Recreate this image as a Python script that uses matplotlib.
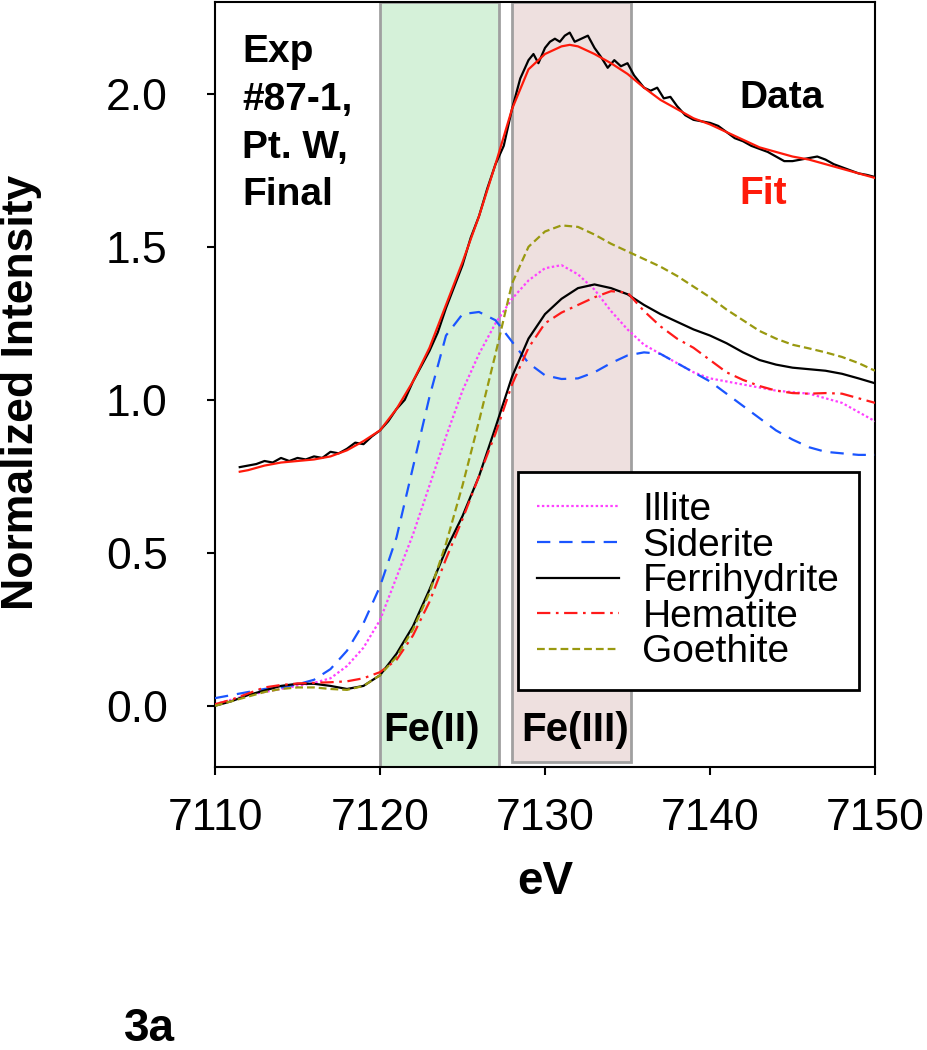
import matplotlib
matplotlib.use("Agg")
import matplotlib.pyplot as plt

plt.rcParams['font.family'] = ['Liberation Sans', 'DejaVu Sans']

# ---------------- data ----------------
ev_data = [7111.5, 7112, 7112.5, 7113, 7113.5, 7114, 7114.5, 7115, 7115.5, 7116, 7116.5,
           7117, 7117.5, 7118, 7118.5, 7119, 7119.5, 7120, 7120.5, 7121, 7121.5, 7122,
           7122.5, 7123, 7123.5, 7124, 7124.5, 7125, 7125.5, 7126, 7126.5, 7127, 7127.5,
           7128, 7128.5, 7129, 7129.3, 7129.6, 7130, 7130.3, 7130.6, 7130.9, 7131.2,
           7131.5, 7131.8, 7132.2, 7132.6, 7133, 7133.4, 7133.8, 7134.2, 7134.6, 7135,
           7135.4, 7136, 7136.4, 7136.8, 7137.2, 7137.6, 7138, 7138.5, 7139, 7139.5,
           7140, 7140.5, 7141, 7141.5, 7142, 7142.5, 7143, 7143.5, 7144, 7144.5, 7145,
           7145.5, 7146, 7146.5, 7147, 7147.5, 7148, 7148.5, 7149, 7149.5, 7150]
data_int = [0.78, 0.785, 0.79, 0.80, 0.795, 0.81, 0.80, 0.81, 0.805, 0.815, 0.81,
            0.83, 0.825, 0.84, 0.86, 0.855, 0.88, 0.90, 0.93, 0.97, 1.00, 1.06,
            1.11, 1.16, 1.22, 1.30, 1.37, 1.44, 1.53, 1.60, 1.69, 1.77, 1.83,
            1.95, 2.05, 2.11, 2.13, 2.10, 2.15, 2.17, 2.18, 2.17, 2.19,
            2.20, 2.17, 2.18, 2.19, 2.15, 2.12, 2.085, 2.11, 2.09, 2.10,
            2.06, 2.02, 2.01, 2.02, 1.985, 1.99, 1.96, 1.93, 1.915, 1.91,
            1.905, 1.895, 1.875, 1.855, 1.845, 1.83, 1.82, 1.81, 1.795, 1.78, 1.78,
            1.785, 1.79, 1.795, 1.785, 1.77, 1.76, 1.75, 1.74, 1.735, 1.728]

ev_fit = [7111.5, 7112, 7113, 7114, 7115, 7116, 7117, 7118, 7119, 7120, 7121, 7122, 7123,
          7124, 7125, 7126, 7127, 7128, 7129, 7130, 7131, 7131.5, 7132, 7133, 7134, 7135,
          7136, 7137, 7138, 7139, 7140, 7141, 7142, 7143, 7144, 7145, 7146, 7147, 7148,
          7149, 7150]
fit_int = [0.765, 0.77, 0.785, 0.795, 0.80, 0.805, 0.815, 0.835, 0.865, 0.90, 0.97, 1.06, 1.17,
           1.31, 1.45, 1.60, 1.77, 1.95, 2.08, 2.13, 2.155, 2.16, 2.155, 2.13, 2.10, 2.065,
           2.02, 1.98, 1.95, 1.92, 1.90, 1.875, 1.85, 1.825, 1.81, 1.795, 1.785, 1.77, 1.755,
           1.74, 1.725]

ev_ref = [7110, 7111, 7112, 7113, 7114, 7115, 7116, 7117, 7118, 7119, 7120, 7121, 7122,
          7123, 7124, 7125, 7126, 7127, 7128, 7129, 7130, 7131, 7132, 7133, 7134, 7135,
          7136, 7137, 7138, 7139, 7140, 7141, 7142, 7143, 7144, 7145, 7146, 7147, 7148,
          7149, 7150]
illite = [0.005, 0.02, 0.035, 0.045, 0.055, 0.065, 0.075, 0.09, 0.13, 0.19, 0.28, 0.42, 0.56,
          0.72, 0.88, 1.03, 1.15, 1.25, 1.33, 1.39, 1.43, 1.44, 1.41, 1.36, 1.29, 1.23,
          1.18, 1.15, 1.12, 1.09, 1.07, 1.06, 1.05, 1.04, 1.03, 1.025, 1.02, 1.005, 0.99,
          0.96, 0.93]
siderite = [0.025, 0.035, 0.045, 0.055, 0.06, 0.07, 0.085, 0.12, 0.18, 0.27, 0.39, 0.55, 0.78,
            1.01, 1.21, 1.28, 1.287, 1.26, 1.19, 1.12, 1.08, 1.068, 1.07, 1.09, 1.12, 1.145,
            1.155, 1.15, 1.12, 1.09, 1.06, 1.02, 0.98, 0.94, 0.90, 0.87, 0.845, 0.83, 0.825,
            0.82, 0.82]
ferrihydrite = [0.0, 0.015, 0.035, 0.05, 0.065, 0.072, 0.072, 0.065, 0.055, 0.065, 0.10, 0.17, 0.26,
                0.38, 0.51, 0.62, 0.75, 0.91, 1.075, 1.20, 1.28, 1.33, 1.365, 1.377, 1.365, 1.345,
                1.31, 1.28, 1.255, 1.23, 1.21, 1.185, 1.155, 1.13, 1.115, 1.105, 1.10, 1.095, 1.085,
                1.07, 1.054]
hematite = [0.005, 0.02, 0.04, 0.06, 0.068, 0.073, 0.075, 0.077, 0.08, 0.09, 0.11, 0.15, 0.23,
            0.34, 0.48, 0.61, 0.75, 0.89, 1.05, 1.17, 1.25, 1.285, 1.31, 1.335, 1.355, 1.35,
            1.29, 1.24, 1.20, 1.17, 1.13, 1.09, 1.065, 1.045, 1.03, 1.022, 1.02, 1.022, 1.02,
            1.005, 0.99]
goethite = [0.0, 0.015, 0.03, 0.045, 0.055, 0.06, 0.06, 0.055, 0.052, 0.065, 0.10, 0.16, 0.25,
            0.37, 0.53, 0.72, 0.93, 1.15, 1.38, 1.50, 1.55, 1.57, 1.565, 1.54, 1.51, 1.485,
            1.46, 1.435, 1.405, 1.37, 1.335, 1.295, 1.26, 1.225, 1.20, 1.18, 1.168, 1.155, 1.14,
            1.12, 1.095]

x_ticks = [7110, 7120, 7130, 7140, 7150]
y_ticks = [0.0, 0.5, 1.0, 1.5, 2.0]
fe2_range = (7120, 7127.2)
fe3_range = (7128, 7135.2)

# ---------------- figure ----------------
fig = plt.figure(figsize=(9.27, 10.5), dpi=100)
ax = fig.add_axes([215/927, 1-767/1050, 660/927, 765/1050])

ax.axvspan(*fe2_range, ymin=0, ymax=1, facecolor='#d5f1d9', edgecolor='#a0a0a0', lw=2, zorder=0)
ax.axvspan(*fe3_range, ymin=0.006, ymax=1, facecolor='#eee0df', edgecolor='#a0a0a0', lw=2, zorder=0)

lw = 1.6
ax.plot(ev_data, data_int, color='black', lw=lw, zorder=3)
ax.plot(ev_fit, fit_int, color='#ff1a0a', lw=lw, zorder=4)

ax.plot(ev_ref, illite, color='#ff40ff', lw=lw, dashes=(1.1, 1.1), label='Illite', zorder=3)
ax.plot(ev_ref, siderite, color='#1a55ff', lw=lw, dashes=(6, 4), label='Siderite', zorder=3)
ax.plot(ev_ref, ferrihydrite, color='black', lw=lw, label='Ferrihydrite', zorder=3)
ax.plot(ev_ref, hematite, color='#ff1a1a', lw=lw, dashes=(6, 2.5, 1.2, 2.5), label='Hematite', zorder=3)
ax.plot(ev_ref, goethite, color='#999910', lw=lw, dashes=(3.5, 1.8), label='Goethite', zorder=3)

ax.set_xlim(7110, 7150)
ax.set_ylim(-0.2, 2.3)
ax.set_xticks(x_ticks)
ax.set_yticks(y_ticks)
ax.set_yticklabels([f"{v:.1f}" for v in y_ticks])
ax.tick_params(axis='both', direction='out', length=6, width=1.5, labelsize=32)
ax.tick_params(axis='x', pad=16)
ax.tick_params(axis='y', pad=28)
for s in ax.spines.values():
    s.set_linewidth(1.5)

ax.set_xlabel('eV', fontsize=33, fontweight='bold')
ax.set_ylabel('Normalized Intensity', fontsize=32, fontweight='bold')
ax.xaxis.set_label_coords(0.5, -0.122)
ax.yaxis.set_label_coords(-0.262, 0.49)

ax.text(0.041, 0.958, 'Exp\n#87-1,\nPt. W,\nFinal', transform=ax.transAxes, fontsize=28,
        fontweight='bold', va='top', ha='left', linespacing=1.42)
ax.text(7141.8, 1.954, 'Data', fontsize=28, fontweight='bold', va='baseline', ha='left')
ax.text(7141.8, 1.641, 'Fit', fontsize=28, fontweight='bold', va='baseline', ha='left', color='#ff1a0a')
ax.text(7123.1, -0.078, 'Fe(II)', fontsize=29, fontweight='bold', va='center', ha='center')
ax.text(7131.8, -0.078, 'Fe(III)', fontsize=29, fontweight='bold', va='center', ha='center')

leg = ax.legend(loc='upper left', bbox_to_anchor=(0.459, 0.385), borderaxespad=0,
                fontsize=28, frameon=True, fancybox=False, framealpha=1, edgecolor='black',
                handlelength=2.1, handletextpad=0.6, labelspacing=-0.01, borderpad=0.5)
leg.get_frame().set_linewidth(2)
leg.set_zorder(10)

fig.text(124/927, 1-1041/1050, '3a', fontsize=33, fontweight='bold', va='baseline', ha='left')

fig.savefig('out.png', dpi=100)
